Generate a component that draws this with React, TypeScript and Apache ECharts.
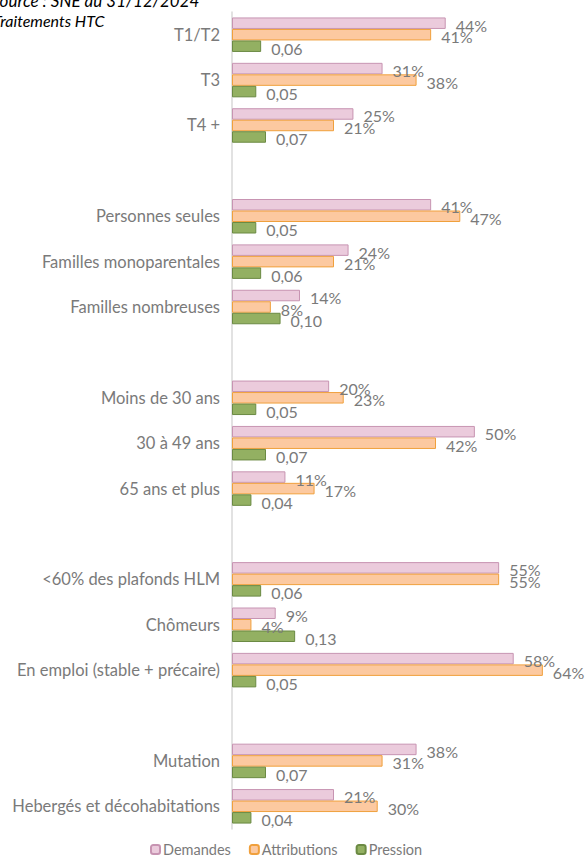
import React, { useEffect, useRef } from "react";
import * as echarts from "echarts";

const categories = [
  "T1/T2", "T3", "T4 +", " ",
  "Personnes seules", "Familles monoparentales", "Familles nombreuses", "  ",
  "Moins de 30 ans", "30 à 49 ans", "65 ans et plus", "   ",
  "<60% des plafonds HLM", "Chômeurs", "En emploi (stable + précaire)", "    ",
  "Mutation", "Hebergés et décohabitations",
];
const demandes = [44, 31, 25, null, 41, 24, 14, null, 20, 50, 11, null, 55, 9, 58, null, 38, 21];
const attributions = [41, 38, 21, null, 47, 21, 8, null, 23, 42, 17, null, 55, 4, 64, null, 31, 30];
const pression = [0.06, 0.05, 0.07, null, 0.05, 0.06, 0.1, null, 0.05, 0.07, 0.04, null, 0.06, 0.13, 0.05, null, 0.07, 0.04];
const seriesNames = ["Demandes", "Attributions", "Pression"];

const FONT = "Lato, 'Open Sans', sans-serif";
const GREY = "#7a7a7a";

export default function App() {
  const ref = useRef<HTMLDivElement>(null);
  useEffect(() => {
    if (!ref.current) return;
    const chart = echarts.init(ref.current, undefined, { renderer: "svg" });
    const labelBase = {
      show: true,
      position: "right",
      distance: 10,
      offset: [0, 2],
      fontFamily: FONT,
      fontSize: 16,
      color: GREY,
    };
    chart.setOption({
      animation: false,
      textStyle: { fontFamily: FONT },
      grid: { left: 232, top: 12, width: 340, height: 817, containLabel: false },
      xAxis: {
        type: "value",
        min: 0,
        max: 70,
        show: false,
      },
      yAxis: {
        type: "category",
        data: categories,
        inverse: true,
        axisLine: { show: true, lineStyle: { color: "#d9d9d9", width: 1.5 } },
        axisTick: { show: false },
        axisLabel: { fontFamily: FONT, fontSize: 16.5, color: GREY, margin: 12 },
        splitLine: { show: false },
      },
      legend: {
        data: seriesNames,
        left: 145,
        top: 837,
        padding: 5,
        itemWidth: 9,
        itemHeight: 9,
        itemGap: 18,
        textStyle: { fontFamily: FONT, fontSize: 14.5, color: GREY, padding: [0, 0, 0, -2] },
      },
      graphic: [
        { type: "text", x: -9, y: -8, style: { text: "Source : SNE au 31/12/2024", font: `italic 17px ${FONT}`, fill: "#000" } },
        { type: "text", x: -7, y: 12, style: { text: "Traitements HTC", font: `italic 16px ${FONT}`, fill: "#000" } },
      ],
      series: [
        {
          name: "Demandes",
          type: "bar",
          barWidth: 11.5,
          barGap: "0%",
          data: demandes.map((v) => (v == null ? "-" : v)),
          itemStyle: { color: "#ebcbdc", borderColor: "#c794b2", borderWidth: 1 },
          label: { ...labelBase, formatter: (p: any) => `${p.value}%` },
        },
        {
          name: "Attributions",
          type: "bar",
          barWidth: 11.5,
          barGap: "0%",
          data: attributions.map((v) => (v == null ? "-" : v)),
          itemStyle: { color: "#fcc9a0", borderColor: "#f0a03c", borderWidth: 1 },
          label: { ...labelBase, formatter: (p: any) => `${p.value}%` },
        },
        {
          name: "Pression",
          type: "bar",
          barWidth: 11.5,
          barGap: "0%",
          data: pression.map((v) => (v == null ? "-" : v * 100)),
          itemStyle: { color: "#93b062", borderColor: "#6b8a43", borderWidth: 1 },
          label: {
            ...labelBase,
            formatter: (p: any) => (pression[p.dataIndex] as number).toFixed(2).replace(".", ","),
          },
        },
      ],
    });
    return () => chart.dispose();
  }, []);
  return (
    <div
      ref={ref}
      style={{ position: "absolute", left: 0, top: 0, width: 586, height: 861 }}
    />
  );
}
